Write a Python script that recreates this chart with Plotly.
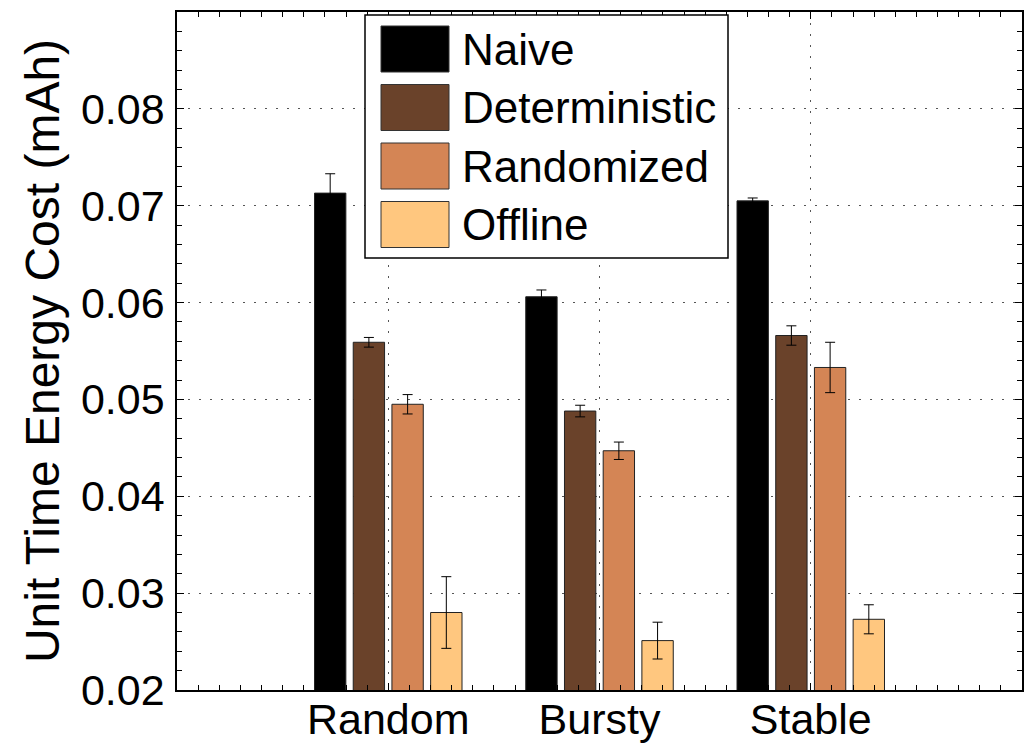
import plotly.graph_objects as go

# ---- data ----
categories = ["Random", "Bursty", "Stable"]
cat_pos = [1, 2, 3]
series_names = ["Naive", "Deterministic", "Randomized", "Offline"]
naive = [0.0713, 0.0606, 0.0705]
naive_err = [0.0020, 0.0007, 0.0003]
deterministic = [0.0559, 0.0488, 0.0566]
deterministic_err = [0.0005, 0.0006, 0.0010]
randomized = [0.0495, 0.0447, 0.0533]
randomized_err = [0.0010, 0.0009, 0.0026]
offline = [0.0280, 0.0251, 0.0273]
offline_err = [0.0037, 0.0019, 0.0015]
y_ticks = [0.02, 0.03, 0.04, 0.05, 0.06, 0.07, 0.08]
y_ticklabels = ["0.02", "0.03", "0.04", "0.05", "0.06", "0.07", "0.08"]

values = [naive, deterministic, randomized, offline]
errors = [naive_err, deterministic_err, randomized_err, offline_err]
colors = ["#000000", "#6A422A", "#D48555", "#FFC77F"]

FONT = "Liberation Sans, Arial, Helvetica, sans-serif"

fig = go.Figure()
for name, v, e, c in zip(series_names, values, errors, colors):
    fig.add_trace(go.Bar(
        x=cat_pos, y=v, name=name,
        marker=dict(color=c, line=dict(color="#222222", width=1)),
        error_y=dict(type="data", array=e, visible=True, color="#000000",
                     thickness=1, width=5),
        showlegend=False,
    ))

W, H = 1024, 747
ml, mr, mt, mb = 177, 2, 12, 57
pw, ph = W - ml - mr, H - mt - mb

def px_x(p):
    return (p - ml) / pw

def px_y(p):
    return (H - mb - p) / ph

shapes = []
annotations = []
# legend box
shapes.append(dict(type="rect", xref="paper", yref="paper",
                   x0=px_x(365), x1=px_x(728), y0=px_y(258), y1=px_y(15),
                   fillcolor="white", line=dict(color="black", width=1.5),
                   layer="above"))
for i, (name, c) in enumerate(zip(series_names, colors)):
    cy = 49 + i * 58.5
    shapes.append(dict(type="rect", xref="paper", yref="paper",
                       x0=px_x(381), x1=px_x(449), y0=px_y(cy + 23), y1=px_y(cy - 23),
                       fillcolor=c, line=dict(color="#333333", width=1),
                       layer="above"))
    annotations.append(dict(xref="paper", yref="paper", x=px_x(460), y=px_y(cy),
                            text=name, showarrow=False, xanchor="left",
                            yanchor="middle",
                            font=dict(family=FONT, size=44, color="black")))

fig.update_layout(
    width=W, height=H,
    margin=dict(l=ml, r=mr, t=mt, b=mb, pad=0, autoexpand=False),
    paper_bgcolor="white", plot_bgcolor="white",
    barmode="group", bargap=0.267, bargroupgap=0.19,
    font=dict(family=FONT, color="black"),
    shapes=shapes, annotations=annotations,
    showlegend=False,
)
fig.update_xaxes(
    range=[0, 4], tickvals=cat_pos, ticktext=categories,
    tickfont=dict(family=FONT, size=43, color="black"),
    ticks="inside", ticklen=7, tickcolor="black", tickwidth=1,
    ticklabelstandoff=-9,
    minor=dict(dtick=0.1, tick0=0, ticks="inside", ticklen=5, tickcolor="black", tickwidth=1),
    showline=True, linecolor="black", linewidth=1.5, mirror="allticks",
    showgrid=True, gridcolor="#555555", gridwidth=1, griddash="2px,9px",
    zeroline=False, automargin=False,
)
fig.update_yaxes(
    range=[0.02, 0.09], tickvals=y_ticks, ticktext=y_ticklabels,
    tickfont=dict(family=FONT, size=43, color="black"),
    ticks="inside", ticklen=7, tickcolor="black", tickwidth=1,
    ticklabelstandoff=2,
    minor=dict(dtick=0.002, tick0=0.02, ticks="inside", ticklen=5, tickcolor="black", tickwidth=1),
    showline=True, linecolor="black", linewidth=1.5, mirror="allticks",
    showgrid=True, gridcolor="#555555", gridwidth=1, griddash="2px,9px",
    zeroline=False, automargin=False,
    title=dict(text="Unit Time Energy Cost (mAh)",
               font=dict(family=FONT, size=48, color="black"), standoff=6),
)

fig.write_html("out.html")
